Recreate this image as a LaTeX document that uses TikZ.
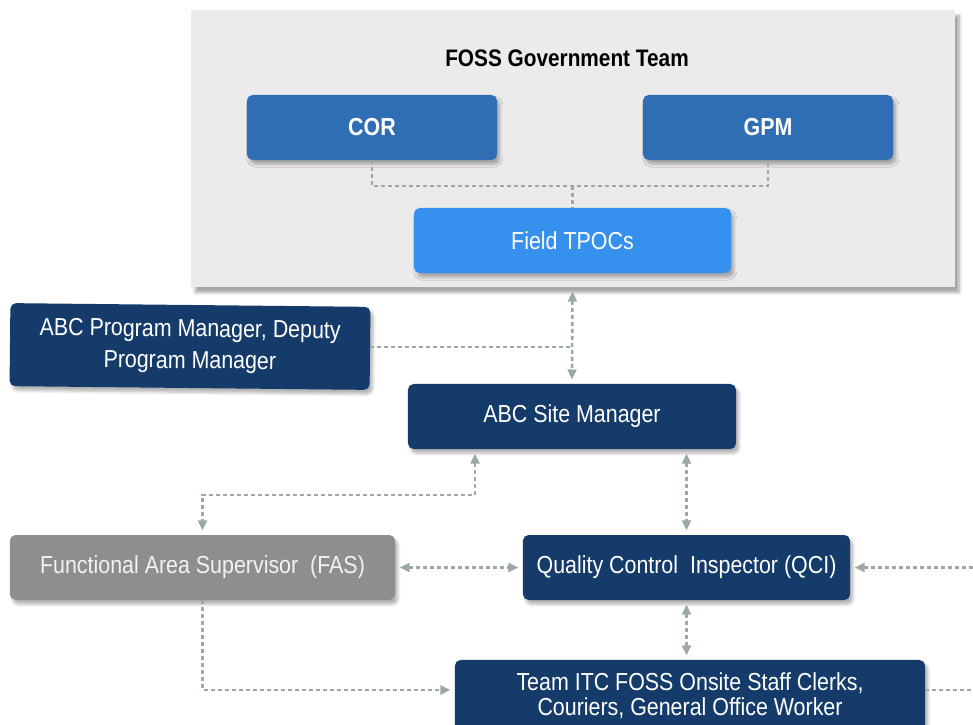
\documentclass[tikz,border=0pt]{standalone}
\usepackage{fontspec}
\setmainfont{Liberation Sans}[FakeStretch=0.87]
\usetikzlibrary{arrows.meta,shadows.blur}
\definecolor{navy}{HTML}{153B6A}
\definecolor{midblue}{HTML}{2F6DB5}
\definecolor{skyblue}{HTML}{3590EE}
\definecolor{fasgray}{HTML}{8E8E8E}
\definecolor{panelgray}{HTML}{EBEBEB}
\definecolor{linkgray}{HTML}{9BA8A8}
\tikzset{
  box/.style={rectangle, rounded corners=4pt, text=white, align=center,
    font=\fontsize{17.5}{22.5}\selectfont, minimum height=1.625cm,
    blur shadow={shadow xshift=2pt, shadow yshift=-3pt, shadow blur steps=6, shadow opacity=30}},
  link/.style={draw=linkgray, line width=1.8pt, dash pattern=on 0.1cm off 0.075cm,
    >={Triangle[length=0.25cm,width=0.22cm,fill=linkgray]}}
}
\begin{document}
\begin{tikzpicture}[x=0.025cm,y=-0.025cm]
  \useasboundingbox (0,0) rectangle (973,724);

  \node (panel) [fill=panelgray, minimum width=19.1cm, minimum height=6.925cm,
    blur shadow={shadow xshift=3pt, shadow yshift=-4pt, shadow blur steps=8, shadow opacity=35}]
    at (573,148.5) {};
  \node (title) at (567,58) {\fontsize{17}{20}\selectfont\bfseries FOSS Government Team};

  \node (cor) [box, fill=midblue, minimum width=6.25cm, font=\fontsize{17.5}{20}\selectfont\bfseries] at (372,127.5) {COR};
  \node (gpm) [box, fill=midblue, minimum width=6.25cm, font=\fontsize{17.5}{20}\selectfont\bfseries] at (768,127.5) {GPM};
  \node (tpoc) [box, fill=skyblue, minimum width=7.925cm] at (572.5,240.5) {Field TPOCs};

  \node (pm) [box, fill=navy, minimum width=9cm, minimum height=2.075cm, rotate=-0.6] at (190,346.5)
    {ABC Program Manager, Deputy\\Program Manager};
  \node (sm) [box, fill=navy, minimum width=8.2cm] at (572,416.5) {ABC Site Manager};
  \node (fas) [box, fill=fasgray, text=white!95!black, minimum width=9.625cm] at (202.5,567.5)
    {Functional Area Supervisor\ \ (FAS)};
  \node (qci) [box, fill=navy, minimum width=8.175cm] at (686.5,567.5) {Quality Control\ \ Inspector (QCI)};
  \node (team) [box, fill=navy, minimum width=11.75cm, minimum height=2.1cm, text depth=0pt] at (690,702)
    {\raisebox{11pt}{\shortstack{Team ITC FOSS Onsite Staff Clerks,\\[0pt]Couriers, General Office Worker}}};

  \coordinate (j1) at (572.5,186);
  \coordinate (j2) at (572.5,347);
  \coordinate (j3) at (475,495);
  \coordinate (j4) at (204,690);
  \coordinate (r1) at (973,567.5);
  \coordinate (r2) at (973,690);

  \draw [link] (cor.south) |- (j1) -| (gpm.south);
  \draw [link] (j1) -- (tpoc.north);
  \draw [link,<->,shorten <=3pt,shorten >=3pt] (tpoc.south |- panel.south) -- (sm.north);
  \draw [link] (pm.east |- j2) -- (j2);
  \draw [link,<->,shorten <=3pt,shorten >=3pt] (j3 |- sm.south) -- (j3) -| (fas.north);
  \draw [link,<->,shorten <=3pt,shorten >=3pt] (qci.north |- sm.south) -- (qci.north);
  \draw [link,<->,shorten <=3pt,shorten >=3pt] (fas.east) -- (qci.west);
  \draw [link,->,shorten >=3pt] (r1) -- (qci.east);
  \draw [link,<->,shorten <=3pt,shorten >=3pt] (qci.south) -- (qci.south |- team.north);
  \draw [link,->,shorten >=3pt] (fas.south) |- (j4 -| team.west);
  \draw [link] (team.east |- j4) -- (r2);
\end{tikzpicture}
\end{document}
